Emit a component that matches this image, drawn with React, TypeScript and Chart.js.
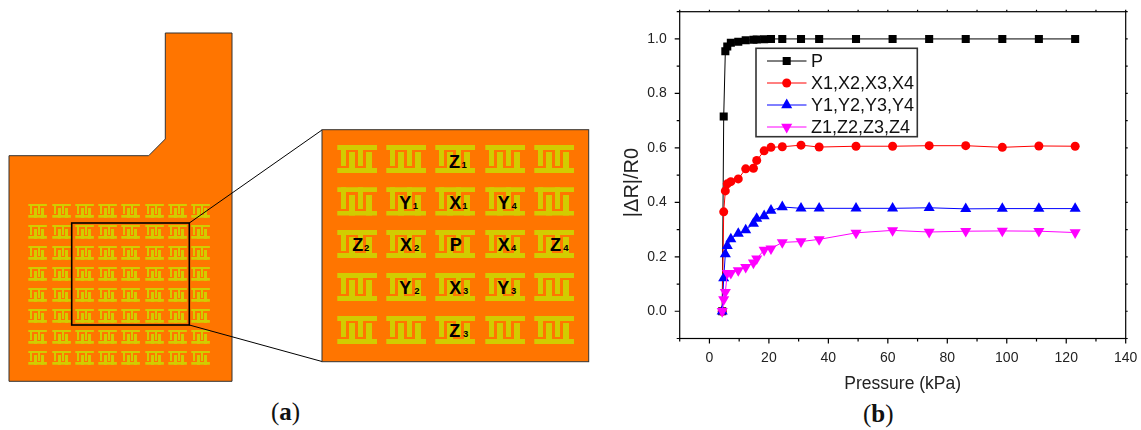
import React, { useEffect, useRef } from "react";
import { Chart, registerables } from "chart.js";

Chart.register(...registerables);

const FONT = "'Liberation Sans', Arial, sans-serif";

const pressureKPa = [4.3, 4.8, 5.35, 6, 7.2, 9.7, 12.2, 14.8, 15.9, 18.4, 20.7, 24.5, 30.8, 36.9, 49.3, 61.6, 73.9, 86.2, 98.5, 110.8, 123];
const seriesP = [0, 0.715, 0.955, 0.972, 0.986, 0.99, 0.995, 0.997, 0.998, 0.999, 1, 1, 1, 1, 1, 1, 1, 1, 1, 1, 1];
const seriesX = [0, 0.365, 0.442, 0.468, 0.476, 0.486, 0.523, 0.525, 0.554, 0.589, 0.602, 0.604, 0.61, 0.603, 0.606, 0.606, 0.608, 0.608, 0.602, 0.607, 0.606];
const seriesY = [0, 0.122, 0.21, 0.24, 0.265, 0.285, 0.298, 0.322, 0.34, 0.35, 0.37, 0.383, 0.378, 0.378, 0.378, 0.378, 0.38, 0.376, 0.377, 0.377, 0.377];
const seriesZ = [0, 0.043, 0.07, 0.14, 0.14, 0.15, 0.162, 0.178, 0.193, 0.225, 0.23, 0.253, 0.256, 0.264, 0.288, 0.297, 0.291, 0.294, 0.295, 0.294, 0.289];
const seriesLabels = ["P", "X1,X2,X3,X4", "Y1,Y2,Y3,Y4", "Z1,Z2,Z3,Z4"];
const seriesColors = ["#000000", "#ff0000", "#0000ff", "#ff00ff"];
const seriesShapes = ["rect", "circle", "triangle", "triangle"];
const seriesRadii = [5.7, 4.5, 6.4, 6.4];
const seriesRotation = [0, 0, 0, 180];
const seriesValues = [seriesP, seriesX, seriesY, seriesZ];

const axisTitleX = "Pressure (kPa)";
const axisTitleY = "|ΔR|/R0";

// Diagram layout (panel a)
const ORANGE = "#ff7500";
const YELLOW = "#d2cc00";
const smallCols = [28.3, 52.3, 75.3, 98.3, 121.3, 145.3, 168.3, 191.3];
const smallRows = [204, 225, 246, 267, 288, 309, 330, 351];
const bigCols = [337.3, 386.3, 435.3, 485.3, 534.3];
const bigRows = [144.7, 187.3, 230, 273, 316];
const sensorLabels: [string, string, number, number, number][] = [
  ["Z", "1", 449, 167.5, 461.5],
  ["Y", "1", 399.3, 208.5, 412.7],
  ["X", "1", 449.3, 208.5, 462.3],
  ["Y", "4", 497.7, 208.5, 511.5],
  ["Z", "2", 352.3, 251, 364],
  ["X", "2", 400, 251, 414],
  ["P", "", 449.7, 251, 0],
  ["X", "4", 497.7, 251, 511],
  ["Z", "4", 550, 251, 563.3],
  ["Y", "2", 399.3, 294, 414.3],
  ["X", "3", 449.3, 294, 463],
  ["Y", "3", 497.3, 294, 511],
  ["Z", "3", 449.3, 337, 463],
];

function Cell({ x, y, w, h }: { x: number; y: number; w: number; h: number }) {
  return (
    <svg x={x} y={y} width={w} height={h} viewBox="0 0 40 28.3" preserveAspectRatio="none" shapeRendering="crispEdges" fill={YELLOW}>
      <rect x="0" y="0" width="40" height="5" />
      <rect x="0" y="23.3" width="40" height="5" />
      <rect x="3.7" y="0" width="4.6" height="21.3" />
      <rect x="20.3" y="0" width="5.7" height="21.3" />
      <rect x="11.7" y="7.3" width="6" height="21" />
      <rect x="28.3" y="7.3" width="6" height="21" />
    </svg>
  );
}

function drawMarker(ctx: CanvasRenderingContext2D, style: string, x: number, y: number, r: number, rot: number) {
  ctx.beginPath();
  if (style === "rect") {
    const s = r * Math.SQRT1_2;
    ctx.rect(x - s, y - s, 2 * s, 2 * s);
  } else if (style === "circle") {
    ctx.arc(x, y, r, 0, Math.PI * 2);
  } else {
    const dir = rot === 180 ? -1 : 1;
    ctx.moveTo(x, y - dir * r);
    ctx.lineTo(x + 0.866 * r, y + dir * r * 0.5);
    ctx.lineTo(x - 0.866 * r, y + dir * r * 0.5);
    ctx.closePath();
  }
  ctx.fill();
}

const framePlugin = {
  id: "originFrame",
  afterDraw(chart: any) {
    const { ctx, chartArea: a, scales } = chart;
    ctx.save();
    ctx.strokeStyle = "#000";
    ctx.lineWidth = 1.2;
    ctx.strokeRect(a.left, a.top, a.right - a.left, a.bottom - a.top);
    ctx.beginPath();
    scales.x.ticks.forEach((t: any) => {
      const px = scales.x.getPixelForValue(t.value);
      const major = Math.round(t.value) % 20 === 0;
      ctx.moveTo(px, a.bottom);
      ctx.lineTo(px, a.bottom + (major ? 5 : 3));
      ctx.moveTo(px, a.top);
      ctx.lineTo(px, a.top - 2);
    });
    scales.y.ticks.forEach((t: any) => {
      const py = scales.y.getPixelForValue(t.value);
      const major = Math.round(t.value * 10) % 2 === 0;
      ctx.moveTo(a.left, py);
      ctx.lineTo(a.left - (major ? 5 : 3), py);
      ctx.moveTo(a.right, py);
      ctx.lineTo(a.right + 2, py);
    });
    ctx.stroke();

    // y-axis title, sitting below the plot's mid-height as in the reference
    ctx.save();
    ctx.translate(632, 182.5);
    ctx.rotate(-Math.PI / 2);
    ctx.textAlign = "center";
    ctx.textBaseline = "middle";
    ctx.fillStyle = "#222";
    ctx.font = `20px ${FONT}`;
    ctx.fillText(axisTitleY, 0, 0);
    ctx.restore();

    // legend box inside the plot
    const box = { l: 756, t: 48.3, r: 917.3, b: 136.7 };
    const rows = [61, 83, 105, 127];
    ctx.fillStyle = "#fff";
    ctx.fillRect(box.l, box.t, box.r - box.l, box.b - box.t);
    ctx.lineWidth = 1.6;
    ctx.strokeStyle = "#333";
    ctx.strokeRect(box.l, box.t, box.r - box.l, box.b - box.t);
    ctx.font = `18px ${FONT}`;
    ctx.textBaseline = "alphabetic";
    ctx.textAlign = "left";
    chart.data.datasets.forEach((d: any, i: number) => {
      const y = rows[i];
      ctx.strokeStyle = d.borderColor;
      ctx.lineWidth = 1;
      ctx.beginPath();
      ctx.moveTo(767, y);
      ctx.lineTo(806.5, y);
      ctx.stroke();
      ctx.fillStyle = d.backgroundColor;
      drawMarker(ctx, d.pointStyle, 786.7, y, d.pointRadius, d.pointRotation);
      ctx.fillStyle = "#111";
      ctx.fillText(d.label, 811, y + 6.4);
    });
    ctx.restore();
  },
};

export default function App() {
  const ref = useRef<HTMLCanvasElement>(null);
  useEffect(() => {
    document.body.style.margin = "0";
    const chart = new Chart(ref.current!, {
      type: "line",
      data: {
        labels: pressureKPa,
        datasets: seriesLabels.map((label, i) => ({
          label,
          data: pressureKPa.map((x, j) => ({ x, y: seriesValues[i][j] })),
          borderColor: seriesColors[i],
          backgroundColor: seriesColors[i],
          borderWidth: 1,
          pointStyle: seriesShapes[i],
          pointRadius: seriesRadii[i],
          pointRotation: seriesRotation[i],
          pointBorderWidth: 0,
          tension: 0,
          order: seriesLabels.length - i,
        })),
      },
      options: {
        animation: false,
        responsive: false,
        layout: { padding: { left: 620, right: 15.3, top: 11.7, bottom: 35 } },
        plugins: { legend: { display: false }, tooltip: { enabled: false } },
        scales: {
          x: {
            type: "linear",
            min: -10,
            max: 140,
            afterFit: (s: any) => { s.height = 56.5; s.paddingLeft = 0; s.paddingRight = 0; },
            grid: { display: false, drawTicks: false },
            border: { display: false },
            ticks: {
              stepSize: 10,
              autoSkip: false,
              maxRotation: 0,
              padding: 11,
              color: "#222",
              font: { family: FONT, size: 14 },
              callback: (v: any) => (Math.round(v) % 20 === 0 ? String(Math.round(v)) : ""),
            },
            title: { display: true, text: axisTitleX, color: "#222", font: { family: FONT, size: 17.5 }, padding: 0 },
          },
          y: {
            type: "linear",
            min: -0.1,
            max: 1.1,
            afterFit: (s: any) => { s.width = 59.7; s.paddingTop = 0; s.paddingBottom = 0; },
            grid: { display: false, drawTicks: false },
            border: { display: false },
            ticks: {
              stepSize: 0.1,
              autoSkip: false,
              padding: 13,
              color: "#222",
              font: { family: FONT, size: 14 },
              callback: (v: any) => (Math.round(v * 10) % 2 === 0 ? Number(v).toFixed(1) : ""),
            },
            title: { display: false },
          },
        },
      },
      plugins: [framePlugin],
    } as any);
    return () => chart.destroy();
  }, []);

  return (
    <div style={{ position: "relative", width: 1141, height: 430, background: "#fff", overflow: "hidden" }}>
      <svg width={1141} height={430} style={{ position: "absolute", left: 0, top: 0 }}>
        <path d="M165.3 33H232V381.3H9V155.7H148.7L165.3 139Z" fill={ORANGE} stroke="#333" strokeWidth={1} />
        {smallRows.map((y) => smallCols.map((x) => <Cell key={`${x}-${y}`} x={x} y={y} w={18.6} h={13.7} />))}
        <rect x={71.7} y={223} width={117.6} height={102} fill="none" stroke="#000" strokeWidth={1.6} />
        <line x1={189.3} y1={223} x2={322} y2={130} stroke="#000" strokeWidth={1} />
        <line x1={189.3} y1={325} x2={322} y2={361.5} stroke="#000" strokeWidth={1} />
        <rect x={322} y={129.7} width={266.7} height={232} fill={ORANGE} stroke="#333" strokeWidth={1} />
        {bigRows.map((y) => bigCols.map((x) => <Cell key={`${x}-${y}`} x={x} y={y} w={40} h={28.3} />))}
        <g fontFamily={FONT} fontWeight="bold" fill="#000">
          {sensorLabels.map(([l, s, x, y, sx]) => (
            <g key={l + s}>
              <text x={x} y={y} fontSize={18}>{l}</text>
              {s && <text x={sx} y={y} fontSize={9.5}>{s}</text>}
            </g>
          ))}
        </g>
        <g fontFamily="'Liberation Serif', serif" fontSize={25} fill="#111">
          <text x={271} y={420}>(<tspan fontWeight="bold">a</tspan>)</text>
          <text x={863} y={422}>(<tspan fontWeight="bold">b</tspan>)</text>
        </g>
      </svg>
      <canvas ref={ref} width={1141} height={430} style={{ position: "absolute", left: 0, top: 0, width: 1141, height: 430 }} />
    </div>
  );
}
